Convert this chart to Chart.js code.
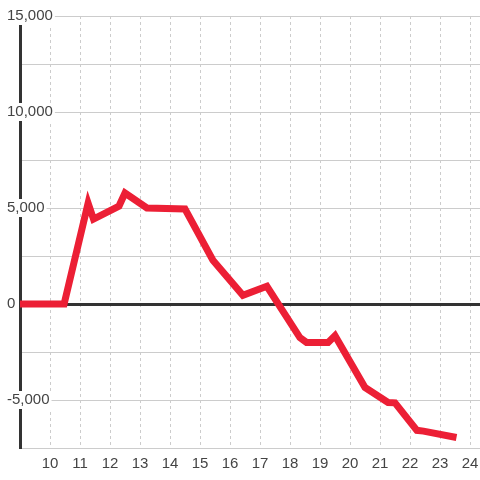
<!DOCTYPE html>
<html>
<head>
<meta charset="utf-8">
<script src="https://cdn.jsdelivr.net/npm/chart.js@4/dist/chart.umd.min.js"></script>
<style>
  html, body { margin: 0; padding: 0; background: #fff; }
  #wrap { width: 480px; height: 480px; }
</style>
</head>
<body>
<div id="wrap"><canvas id="chart"></canvas></div>
<script>
// Hora del día (eje x) y valor acumulado (eje y)
const horas = [8.8, 10.47, 11.27, 11.45, 12.3, 12.5, 13.23, 14.5, 15.43, 16.43, 17.23, 18.33, 18.55, 19.27, 19.5, 20.5, 21.27, 21.5, 22.23, 22.45, 23.55];
const valores = [0, 0, 5250, 4420, 5100, 5780, 5000, 4950, 2280, 450, 920, -1750, -2000, -2000, -1650, -4350, -5130, -5150, -6580, -6620, -6950];

const COLOR_LINEA = '#ec1f35';
const COLOR_TEXTO = '#444';
const COLOR_EJE = '#333';
const COLOR_REJILLA = '#cccccc';

const puntos = horas.map((h, i) => ({ x: h, y: valores[i] }));

new Chart(document.getElementById('chart').getContext('2d'), {
  type: 'line',
  data: {
    datasets: [{
      data: puntos,
      borderColor: COLOR_LINEA,
      backgroundColor: COLOR_LINEA,
      borderWidth: 7,
      pointRadius: 0,
      tension: 0,
      fill: false
    }]
  },
  options: {
    responsive: true,
    maintainAspectRatio: false,
    animation: false,
    layout: { padding: { top: 16, left: 0, right: 0, bottom: 0 } },
    plugins: {
      legend: { display: false },
      tooltip: { enabled: false }
    },
    scales: {
      x: {
        type: 'linear',
        min: 9,
        max: 24 + 1 / 3,
        afterFit: (s) => { s.height = 32; s.paddingLeft = 0; s.paddingRight = 0; },
        border: { display: false, dash: [3, 3] },
        grid: {
          color: COLOR_REJILLA,
          drawTicks: false
        },
        ticks: {
          stepSize: 1,
          includeBounds: false,
          padding: 7,
          color: COLOR_TEXTO,
          font: { family: 'Liberation Sans', size: 15 },
          callback: (v) => (v === 9 ? '' : v)
        }
      },
      y: {
        min: -7500,
        max: 15000,
        afterFit: (s) => { s.width = 20; s.paddingTop = 0; s.paddingBottom = 0; },
        border: { display: true, color: COLOR_EJE, width: 3 },
        grid: {
          drawTicks: false,
          color: (ctx) => (ctx.tick && ctx.tick.value === 0 ? COLOR_EJE : COLOR_REJILLA),
          lineWidth: (ctx) => (ctx.tick && ctx.tick.value === 0 ? 3 : 1)
        },
        ticks: {
          stepSize: 2500,
          mirror: true,
          padding: -13,
          color: COLOR_TEXTO,
          font: { family: 'Liberation Sans', size: 15 },
          showLabelBackdrop: true,
          backdropColor: '#fff',
          backdropPadding: { left: 2, right: 2, top: 0, bottom: 0 },
          callback: (v) => (v % 5000 === 0 ? v.toLocaleString('en-US') : '')
        }
      }
    }
  }
});
</script>
</body>
</html>
